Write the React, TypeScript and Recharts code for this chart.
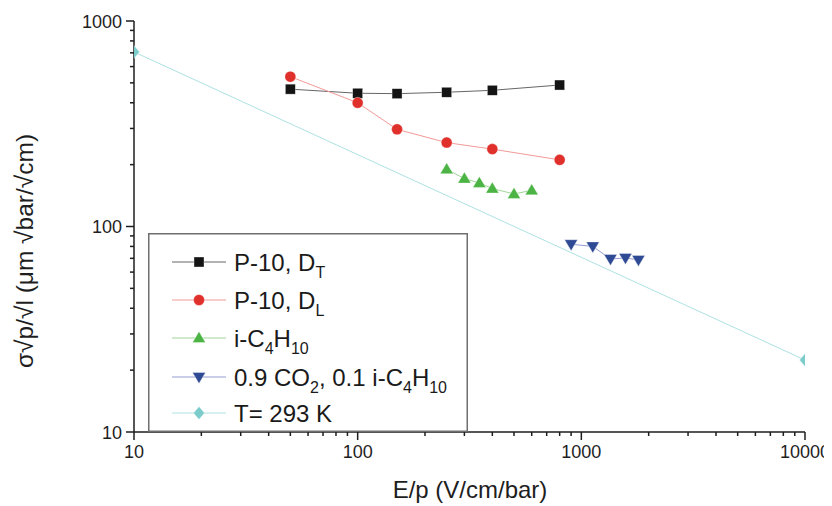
import React from "react";
import { ComposedChart, Line, XAxis, YAxis, Legend } from "recharts";

// E/p (V/cm/bar) and sigma*sqrt(p)/sqrt(l) values
const dtX = [50, 100, 150, 250, 400, 800];
const dtY = [466, 445, 443, 450, 460, 488];
const dlX = [50, 100, 150, 250, 400, 800];
const dlY = [536, 400, 297, 256, 238, 211];
const isoX = [250, 300, 350, 400, 500, 600];
const isoY = [190, 171, 163, 153, 144, 150];
const co2X = [900, 1125, 1350, 1575, 1800];
const co2Y = [82, 80, 69.5, 70.3, 68.8];
const thermX = [10, 10000];
const thermY = [707, 22.4];

const majorTicks = [10, 100, 1000, 10000];
const xTicks = [10, 20, 30, 40, 50, 60, 70, 80, 90, 100, 200, 300, 400, 500, 600, 700, 800, 900, 1000, 2000, 3000, 4000, 5000, 6000, 7000, 8000, 9000, 10000];
const yTicks = [10, 20, 30, 40, 50, 60, 70, 80, 90, 100, 200, 300, 400, 500, 600, 700, 800, 900, 1000];

const toPoints = (xs: number[], ys: number[]) => xs.map((x, i) => ({ x, y: ys[i] }));

type Shape = "square" | "circle" | "up" | "down" | "diamond";

const series: { name: string; shape: Shape; fill: string; line: string; data: { x: number; y: number }[] }[] = [
  { name: "dt", shape: "square", fill: "#141414", line: "#666666", data: toPoints(dtX, dtY) },
  { name: "dl", shape: "circle", fill: "#e0302c", line: "#f29a96", data: toPoints(dlX, dlY) },
  { name: "iso", shape: "up", fill: "#4cb444", line: "#9fd696", data: toPoints(isoX, isoY) },
  { name: "co2", shape: "down", fill: "#2f4a94", line: "#959cd0", data: toPoints(co2X, co2Y) },
  { name: "therm", shape: "diamond", fill: "#7ccccc", line: "#ade2e2", data: toPoints(thermX, thermY) },
];

const FONT = "'Liberation Sans', Arial, sans-serif";
const AXIS = "#1e1e1e";

function Marker({ shape, cx, cy, fill }: { shape: Shape; cx: number; cy: number; fill: string }) {
  const edge = "rgba(255,255,255,0.6)";
  if (shape === "square") return <rect x={cx - 5} y={cy - 5} width={10} height={10} fill={fill} stroke={edge} strokeWidth={0.6} />;
  if (shape === "circle") return <circle cx={cx} cy={cy} r={5.5} fill={fill} stroke={edge} strokeWidth={0.6} />;
  if (shape === "up") return <path d={`M${cx},${cy - 6.5} L${cx + 6.5},${cy + 4.5} L${cx - 6.5},${cy + 4.5} Z`} fill={fill} stroke={edge} strokeWidth={0.6} />;
  if (shape === "down") return <path d={`M${cx - 6.5},${cy - 4.5} L${cx + 6.5},${cy - 4.5} L${cx},${cy + 6.5} Z`} fill={fill} stroke={edge} strokeWidth={0.6} />;
  return <path d={`M${cx},${cy - 6.5} L${cx + 5.5},${cy} L${cx},${cy + 6.5} L${cx - 5.5},${cy} Z`} fill={fill} stroke={edge} strokeWidth={0.6} />;
}

function XTick({ x, y, payload }: any) {
  const v = Number(payload.value);
  const major = majorTicks.includes(v);
  return (
    <g>
      <line x1={x} x2={x} y1={y} y2={y + (major ? 8 : 4)} stroke={AXIS} strokeWidth={1.5} />
      {major && (
        <text x={x} y={y + 26} textAnchor="middle" fontSize={18} fontFamily={FONT} fill={AXIS}>
          {v}
        </text>
      )}
    </g>
  );
}

function YTick({ x, y, payload }: any) {
  const v = Number(payload.value);
  const major = majorTicks.includes(v);
  return (
    <g>
      <line x1={x} x2={x - (major ? 8 : 4)} y1={y} y2={y} stroke={AXIS} strokeWidth={1.5} />
      {major && (
        <text x={x - 12} y={y + 6.5} textAnchor="end" fontSize={18} fontFamily={FONT} fill={AXIS}>
          {v}
        </text>
      )}
    </g>
  );
}

const sub = (s: string) => (
  <tspan fontSize={16} dy={7}>
    {s}
  </tspan>
);
const up = (s: string) => <tspan dy={-7}>{s}</tspan>;

const legendRows: { shape: Shape; fill: string; line: string; label: React.ReactNode }[] = [
  { shape: "square", fill: "#141414", line: "#666666", label: <>P-10, D{sub("T")}</> },
  { shape: "circle", fill: "#e0302c", line: "#f29a96", label: <>P-10, D{sub("L")}</> },
  { shape: "up", fill: "#4cb444", line: "#9fd696", label: <>i-C{sub("4")}{up("H")}{sub("10")}</> },
  { shape: "down", fill: "#2f4a94", line: "#959cd0", label: <>0.9 CO{sub("2")}{up(", 0.1 i-C")}{sub("4")}{up("H")}{sub("10")}</> },
  { shape: "diamond", fill: "#7ccccc", line: "#ade2e2", label: <>T= 293 K</> },
];
const rowY = [29, 67, 105, 144, 180];

function LegendBox() {
  return (
    <svg width={320} height={199} style={{ display: "block" }}>
      <rect x={0.75} y={0.75} width={318.5} height={197.5} fill="#ffffff" stroke="#6e6e6e" strokeWidth={1.5} />
      {legendRows.map((r, i) => (
        <g key={i}>
          <line x1={24} x2={78} y1={rowY[i]} y2={rowY[i]} stroke={r.line} strokeWidth={1} />
          <Marker shape={r.shape} cx={51} cy={rowY[i]} fill={r.fill} />
          <text x={86} y={rowY[i] + 8.5} fontSize={24} fontFamily={FONT} fill="#1a1a1a">
            {r.label}
          </text>
        </g>
      ))}
    </svg>
  );
}

export default function App() {
  return (
    <div style={{ width: 824, height: 498 }}>
      <style>{"html,body{overflow:hidden}"}</style>
      <ComposedChart width={824} height={498} margin={{ top: 13, right: 27, left: 0, bottom: 0 }}>
        <XAxis
          dataKey="x"
          type="number"
          scale="log"
          domain={[10, 10000]}
          ticks={xTicks}
          interval={0}
          allowDataOverflow
          height={74}
          tickSize={0}
          tickMargin={0}
          tickLine={false}
          axisLine={{ stroke: AXIS, strokeWidth: 1.5 }}
          tick={<XTick />}
          label={() => (
            <text x={462} y={490} textAnchor="middle" fontSize={24} fontFamily={FONT} fill={AXIS}>
              E/p (V/cm/bar)
            </text>
          )}
        />
        <YAxis
          dataKey="y"
          type="number"
          scale="log"
          domain={[10, 1000]}
          ticks={yTicks}
          interval={0}
          allowDataOverflow
          width={126}
          tickSize={0}
          tickMargin={0}
          tickLine={false}
          axisLine={{ stroke: AXIS, strokeWidth: 1.5 }}
          tick={<YTick />}
          label={() => (
            <text transform="translate(25,243) rotate(-90)" textAnchor="middle" fontSize={24.5} fontFamily={FONT} fill={AXIS}>
              σ√p/√l (μm √bar/√cm)
            </text>
          )}
        />
        <Legend
          layout="vertical"
          align="center"
          verticalAlign="middle"
          wrapperStyle={{ left: 140, top: 225, width: 320, height: 199 }}
          content={() => <LegendBox />}
        />
        {series.map((s) => (
          <Line
            key={s.name}
            data={s.data}
            dataKey="y"
            type="linear"
            stroke={s.line}
            strokeWidth={1}
            isAnimationActive={false}
            dot={(p: any) => <Marker key={p.index} shape={s.shape} cx={p.cx} cy={p.cy} fill={s.fill} />}
            activeDot={false}
          />
        ))}
      </ComposedChart>
    </div>
  );
}
